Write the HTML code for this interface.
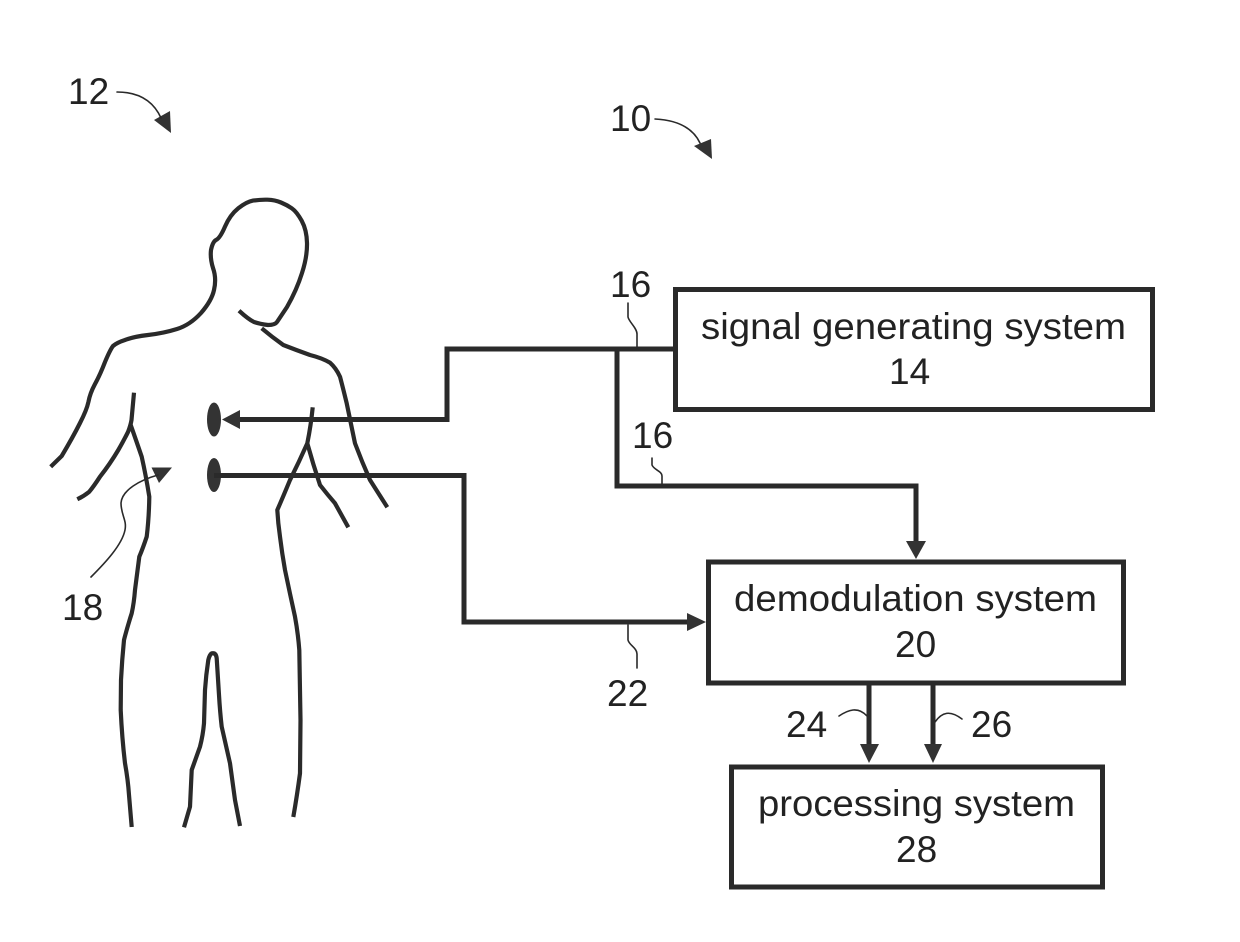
<!DOCTYPE html>
<html><head><meta charset="utf-8"><style>
html,body{margin:0;padding:0;background:#fff;width:1240px;height:942px;overflow:hidden}
svg{display:block}
text{font-family:"Liberation Sans",sans-serif;font-size:37px;fill:#222}
.b{fill:none;stroke:#2a2a2a;stroke-width:4.2;stroke-linejoin:round;stroke-linecap:butt}
.l{fill:none;stroke:#2a2a2a;stroke-width:5;stroke-linejoin:miter}
.f{fill:none;stroke:#2a2a2a;stroke-width:1.6;stroke-linecap:round}
.h{fill:#333}
.r{fill:#fff;stroke:#2a2a2a;stroke-width:5}
</style></head><body>
<svg width="1240" height="942" viewBox="0 0 1240 942" xmlns="http://www.w3.org/2000/svg">
<!-- body -->
<path class="b" d="M50.7,466.7 L61.7,456 Q73,437 80,423 Q86.7,410 88.4,402 Q90,393.3 95,384 Q100,375 105,362 Q110,350 113,346 Q116.7,342.7 125,340 Q133.3,336.7 148,335 Q163.3,333.3 177,329 Q190,325 201,313 Q211.7,300.7 214,290 Q216.7,278.3 213,268 Q210,258.3 211,250 Q212.7,241.7 216,240 Q220,238.3 225,226.6 Q230,215 238.3,208.3 Q246.7,201.7 253,200.6 Q260,199.5 267.5,199.7 Q275,200 281,202.5 Q287,205 291.8,208.3 Q296.7,211.7 301.7,220.8 Q306.7,230 307,243 Q307.3,256.7 302,273 Q296.7,290 287,307 L277,322 Q275,325 268,325 Q260,324 254,322 Q248.3,319.3 239,310.7"/>
<path class="b" d="M261.7,328.3 Q272,337 283.3,345 Q296,350 310,355 Q322,358 330,362.7 Q336,368 340,376.7 Q343,388 346.7,403.3 L355,443.3 Q362,462 370,480 L387.3,507.3"/>
<path class="b" d="M134,392.7 L131.5,420 Q130.7,425 128,432 Q123,442 118.3,450 Q110,464 100,476.7 Q94,486 89.3,491.7 Q84,496 77.3,499.3"/>
<path class="b" d="M130.7,425 Q136,440 141.7,456.7 Q146,476 149.3,496.7 Q149,518 146.7,536.7 Q143,548 139.3,556.7 Q137,575 135,590 Q134,603 131.7,613.3 Q127,628 124,640 Q122,660 121,680 L120.7,710 Q122,738 125,763.3 Q128,780 129,795 L131.7,827"/>
<path class="b" d="M312.7,407.3 Q311,425 307.3,443.3 Q299,462 290,480 Q283,497 277.3,510 Q278,523 280,536.7 Q282,553 285,570 Q290,594 295,616.7 Q298,633 299.3,650 L300.5,720 L300,773.3 Q297,796 293.3,817"/>
<path class="b" d="M307.3,443.3 Q313,464 320,485 Q327,494 335,503.3 L348.3,527.3"/>
<path class="b" d="M184,827.3 L190,806.7 L191.7,770 Q196,758 200,746.7 Q203,735 204,723.3 L205,690 Q206,675 208.3,660 Q210,653 212.7,653.3 Q216,653 216.7,658.3 L219,695 Q220,712 221.7,726.7 L230,763.3 L235,800 L240,826"/>
<!-- electrodes -->
<ellipse cx="214" cy="419.5" rx="7" ry="17" fill="#333"/>
<ellipse cx="214" cy="475" rx="7" ry="17" fill="#333"/>
<!-- connectors -->
<polyline class="l" points="238,419.5 447,419.5 447,349 675,349"/>
<polyline class="l" points="214,475.5 464,475.5 464,622 690,622"/>
<polyline class="l" points="617,349 617,486 916,486 916,545"/>
<polyline class="l" points="869,684 869,748"/>
<polyline class="l" points="933,684 933,748"/>
<!-- boxes -->
<rect class="r" x="675.5" y="289.5" width="477" height="120"/>
<rect class="r" x="708.5" y="562" width="415" height="121"/>
<rect class="r" x="731.5" y="767" width="371" height="120"/>
<!-- arrowheads -->
<polygon class="h" points="222,419.5 240,410 240,429"/>
<polygon class="h" points="706,622 687,613 687,631"/>
<polygon class="h" points="916,559 906,541 926,541"/>
<polygon class="h" points="869,763 860,744 879,744"/>
<polygon class="h" points="933,763 924,744 942,744"/>
<polygon class="h" points="172,467.5 151.5,467.5 159,483"/>
<polygon class="h" points="171,133 154,120 170,111"/>
<polygon class="h" points="712,159 694,146 711,139"/>
<!-- callout leaders -->
<path class="f" d="M117,92 C135,92 152,98 161,118"/>
<path class="f" d="M655,119 C675,120 692,126 700,143"/>
<path class="f" d="M158,475 C140,480 122,490 121,503 C121,515 127,520 125,530 C122,545 105,563 91,577"/>
<path class="f" d="M628,303 L628,317 C629,322 637,328 637,334 L637,348"/>
<path class="f" d="M652,458 L652,465 C654,470 662,471 662,476 L662,485"/>
<path class="f" d="M628,625 L628,640 C629,645 637,648 637,654 L637,668"/>
<path class="f" d="M839,716 C848,710 858,706 867,716"/>
<path class="f" d="M935,722 C942,712 950,710 962,719"/>
<!-- labels -->
<text x="68" y="104">12</text>
<text x="610" y="131">10</text>
<text x="610" y="297">16</text>
<text x="632" y="448">16</text>
<text x="62" y="620">18</text>
<text x="607" y="706">22</text>
<text x="786" y="737">24</text>
<text x="971" y="737">26</text>
<text x="701" y="339" textLength="425" lengthAdjust="spacingAndGlyphs">signal generating system</text>
<text x="889" y="384">14</text>
<text x="734" y="611" textLength="363" lengthAdjust="spacingAndGlyphs">demodulation system</text>
<text x="895" y="657">20</text>
<text x="758" y="816" textLength="317" lengthAdjust="spacingAndGlyphs">processing system</text>
<text x="896" y="862">28</text>
</svg>
</body></html>
